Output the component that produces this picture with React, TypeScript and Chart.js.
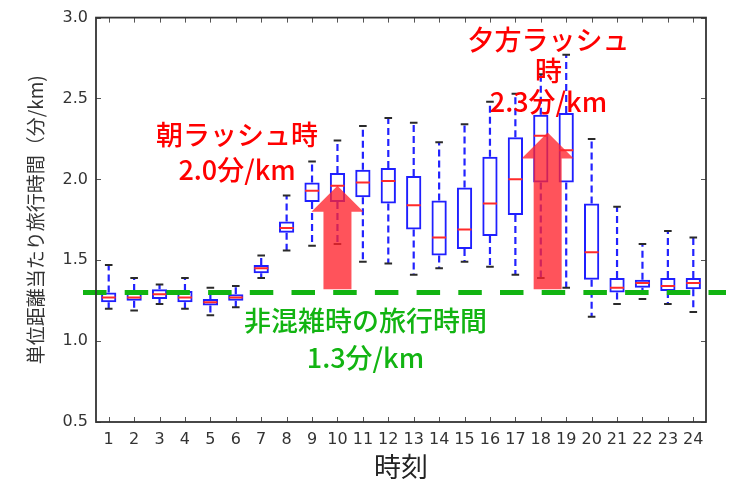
import { useEffect, useRef } from 'react';
import { Chart, registerables } from 'chart.js';

Chart.register(...registerables);

// Hour of day (1–24)
const hours = ['1', '2', '3', '4', '5', '6', '7', '8', '9', '10', '11', '12', '13', '14', '15', '16', '17', '18', '19', '20', '21', '22', '23', '24'];

// Travel time per km (min/km): box-plot statistics per hour
const whiskerLow = [1.20, 1.19, 1.23, 1.20, 1.16, 1.21, 1.39, 1.56, 1.59, 1.60, 1.49, 1.48, 1.41, 1.45, 1.49, 1.46, 1.41, 1.39, 1.33, 1.15, 1.23, 1.26, 1.23, 1.18];
const quartile1 = [1.24, 1.25, 1.26, 1.24, 1.22, 1.25, 1.42, 1.67, 1.86, 1.86, 1.89, 1.85, 1.69, 1.53, 1.57, 1.65, 1.78, 1.98, 1.98, 1.38, 1.30, 1.33, 1.31, 1.32];
const medians = [1.27, 1.27, 1.29, 1.27, 1.24, 1.27, 1.45, 1.70, 1.93, 1.96, 1.98, 1.99, 1.84, 1.64, 1.69, 1.85, 2.00, 2.27, 2.18, 1.55, 1.33, 1.36, 1.34, 1.36];
const quartile3 = [1.30, 1.31, 1.32, 1.31, 1.26, 1.29, 1.47, 1.74, 1.98, 2.04, 2.06, 2.07, 2.02, 1.87, 1.95, 2.14, 2.26, 2.40, 2.41, 1.85, 1.39, 1.38, 1.39, 1.39];
const whiskerHigh = [1.47, 1.39, 1.35, 1.39, 1.33, 1.34, 1.53, 1.90, 2.11, 2.24, 2.33, 2.38, 2.35, 2.23, 2.34, 2.48, 2.53, 2.65, 2.77, 2.25, 1.83, 1.60, 1.68, 1.64];

const yTicks = [0.5, 1.0, 1.5, 2.0, 2.5, 3.0];

// Reference level: free-flow travel time
const freeFlowTime = 1.3;

// Rush-hour arrows: [hour position, start value, tip value]
const morningArrow = [9, 1.32, 1.96];
const eveningArrow = [17.27, 1.32, 2.29];

// Annotation texts
const morningText = ['朝ラッシュ時', '2.0分/km'];
const eveningText = ['夕方ラッシュ', '時', '2.3分/km'];
const freeFlowText = ['非混雑時の旅行時間', '1.3分/km'];

const CJK = '"Noto Sans CJK JP", "Noto Sans", sans-serif';

const overlayPlugin = {
  id: 'boxOverlay',
  beforeDatasetsDraw(chart: any) {
    const { ctx } = chart;
    const xs = chart.scales.x;
    const ys = chart.scales.y;
    ctx.save();
    ctx.strokeStyle = '#2222ff';
    ctx.lineWidth = 2.2;
    ctx.setLineDash([7, 4]);
    hours.forEach((_, i) => {
      const x = xs.getPixelForValue(i);
      ctx.beginPath();
      ctx.moveTo(x, ys.getPixelForValue(quartile3[i]));
      ctx.lineTo(x, ys.getPixelForValue(whiskerHigh[i]));
      ctx.moveTo(x, ys.getPixelForValue(quartile1[i]));
      ctx.lineTo(x, ys.getPixelForValue(whiskerLow[i]));
      ctx.stroke();
    });
    ctx.restore();
  },
  afterDatasetsDraw(chart: any) {
    const { ctx, chartArea } = chart;
    const xs = chart.scales.x;
    const ys = chart.scales.y;
    ctx.save();

    // free-flow dashed line
    const yFree = ys.getPixelForValue(freeFlowTime);
    ctx.strokeStyle = '#12b412';
    ctx.lineWidth = 5;
    ctx.setLineDash([23.5, 18.2]);
    ctx.beginPath();
    ctx.moveTo(chartArea.left - 13, yFree);
    ctx.lineTo(chartArea.right + 20, yFree);
    ctx.stroke();
    ctx.setLineDash([]);

    // rush-hour arrows
    const drawArrow = (a: number[]) => {
      const x = xs.getPixelForValue(a[0]);
      const yb = ys.getPixelForValue(a[1]);
      const yt = ys.getPixelForValue(a[2]);
      const shaft = 14;
      const head = 26;
      const headLen = 26;
      ctx.beginPath();
      ctx.moveTo(x - shaft, yb);
      ctx.lineTo(x - shaft, yt + headLen);
      ctx.lineTo(x - head, yt + headLen);
      ctx.lineTo(x, yt);
      ctx.lineTo(x + head, yt + headLen);
      ctx.lineTo(x + shaft, yt + headLen);
      ctx.lineTo(x + shaft, yb);
      ctx.closePath();
      ctx.fillStyle = 'rgba(255, 35, 45, 0.78)';
      ctx.fill();
    };
    drawArrow(morningArrow);
    drawArrow(eveningArrow);

    // annotation texts
    ctx.textAlign = 'center';
    ctx.textBaseline = 'middle';
    ctx.font = `500 27px ${CJK}`;
    ctx.fillStyle = '#ff0000';
    const mx = xs.getPixelForValue(5.05);
    ctx.fillText(morningText[0], mx, ys.getPixelForValue(2.274));
    ctx.fillText(morningText[1], mx, ys.getPixelForValue(2.059));
    const ex = xs.getPixelForValue(17.3);
    ctx.fillText(eveningText[0], ex, ys.getPixelForValue(2.865));
    ctx.fillText(eveningText[1], ex, ys.getPixelForValue(2.674));
    ctx.fillText(eveningText[2], ex, ys.getPixelForValue(2.477));
    ctx.fillStyle = '#12b412';
    const gx = xs.getPixelForValue(10.1);
    ctx.fillText(freeFlowText[0], gx, ys.getPixelForValue(1.124));
    ctx.fillText(freeFlowText[1], gx, ys.getPixelForValue(0.897));

    ctx.restore();
  },
  afterDraw(chart: any) {
    const { ctx, chartArea } = chart;
    const xs = chart.scales.x;
    const ys = chart.scales.y;
    const { left, right, top, bottom } = chartArea;
    ctx.save();
    // inward tick marks on all four sides
    ctx.strokeStyle = '#555';
    ctx.lineWidth = 1;
    ctx.beginPath();
    hours.forEach((_, i) => {
      const x = Math.round(xs.getPixelForValue(i)) + 0.5;
      ctx.moveTo(x, bottom);
      ctx.lineTo(x, bottom - 5);
      ctx.moveTo(x, top);
      ctx.lineTo(x, top + 5);
    });
    yTicks.forEach((v) => {
      const y = Math.round(ys.getPixelForValue(v)) + 0.5;
      ctx.moveTo(left, y);
      ctx.lineTo(left + 5, y);
      ctx.moveTo(right, y);
      ctx.lineTo(right - 5, y);
    });
    ctx.stroke();
    // frame
    ctx.strokeStyle = '#333';
    ctx.lineWidth = 1.8;
    ctx.strokeRect(left, top, right - left, bottom - top);
    ctx.restore();
  },
};

export default function App() {
  const canvasRef = useRef<HTMLCanvasElement | null>(null);

  useEffect(() => {
    const canvas = canvasRef.current;
    if (!canvas) return;
    const chart = new Chart(canvas, {
      type: 'bar',
      data: {
        labels: hours,
        datasets: [
          {
            type: 'bar',
            label: 'IQR',
            data: quartile1.map((q, i) => [q, quartile3[i]]) as any,
            backgroundColor: 'rgba(255,255,255,0)',
            borderColor: '#1f1fff',
            borderWidth: 2,
            borderSkipped: false,
            barPercentage: 0.6,
            categoryPercentage: 1,
            order: 3,
          },
          {
            type: 'line',
            label: 'median',
            data: medians,
            showLine: false,
            pointStyle: 'line',
            pointRadius: 7,
            pointBorderWidth: 2,
            pointBorderColor: '#ff2a2a',
            pointBackgroundColor: '#ff2a2a',
            order: 1,
          },
          {
            type: 'line',
            label: 'upper cap',
            data: whiskerHigh,
            showLine: false,
            pointStyle: 'line',
            pointRadius: 3.8,
            pointBorderWidth: 2,
            pointBorderColor: '#2a2a2a',
            order: 2,
          },
          {
            type: 'line',
            label: 'lower cap',
            data: whiskerLow,
            showLine: false,
            pointStyle: 'line',
            pointRadius: 3.8,
            pointBorderWidth: 2,
            pointBorderColor: '#2a2a2a',
            order: 2,
          },
        ],
      },
      options: {
        responsive: false,
        animation: false,
        events: [],
        layout: { padding: { left: 0, top: 15, right: 29, bottom: 0 } },
        plugins: { legend: { display: false }, tooltip: { enabled: false } },
        scales: {
          x: {
            type: 'category',
            offset: true,
            grid: { display: false, drawTicks: false },
            border: { display: false },
            ticks: {
              autoSkip: false,
              maxRotation: 0,
              padding: 8,
              color: '#333',
              font: { family: '"DejaVu Sans", sans-serif', size: 16 },
            },
            title: {
              display: true,
              text: '時刻',
              color: '#222',
              font: { family: CJK, size: 27 },
              padding: { top: 0, bottom: 6 },
            },
            afterFit: (scale: any) => {
              scale.height = 67;
            },
          },
          y: {
            type: 'linear',
            min: 0.5,
            max: 3.0,
            grid: { display: false, drawTicks: false },
            border: { display: false },
            ticks: {
              stepSize: 0.5,
              padding: 8,
              color: '#333',
              font: { family: '"DejaVu Sans", sans-serif', size: 16 },
              callback: (v: any) => Number(v).toFixed(1),
            },
            title: {
              display: true,
              text: '単位距離当たり旅行時間（分/km)',
              color: '#333',
              font: { family: CJK, size: 19 },
              padding: { top: 24, bottom: 0 },
            },
            afterFit: (scale: any) => {
              scale.width = 96;
            },
          },
        },
      },
      plugins: [overlayPlugin],
    });
    return () => chart.destroy();
  }, []);

  return (
    <div style={{ position: 'fixed', left: 0, top: 0, width: 735, height: 489, background: '#fff' }}>
      <canvas ref={canvasRef} width={735} height={489} />
    </div>
  );
}
